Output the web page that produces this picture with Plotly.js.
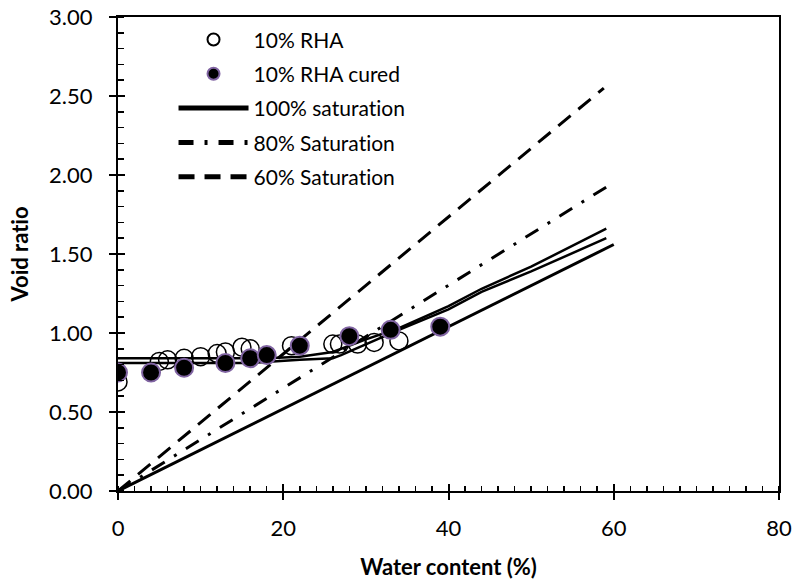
<!DOCTYPE html>
<html>
<head>
<meta charset="utf-8">
<script src="https://cdn.plot.ly/plotly-3.0.1.min.js"></script>
<style>html,body{margin:0;padding:0;background:#fff;}#chart{width:796px;height:588px;}
svg text{font-variant-ligatures:none;font-feature-settings:"liga" 0,"clig" 0;}</style>
</head>
<body>
<div id="chart"></div>
<script>
// 10% RHA (open circles)
var rhaX = [0, 5, 6, 8, 10, 12, 13, 15, 16, 21, 26, 26.8, 29, 31, 34];
var rhaY = [0.69, 0.82, 0.83, 0.84, 0.85, 0.87, 0.88, 0.91, 0.90, 0.92, 0.93, 0.93, 0.93, 0.94, 0.95];
// 10% RHA cured (filled circles)
var curedX = [0, 4, 8, 13, 16, 18, 22, 28, 33, 39];
var curedY = [0.75, 0.75, 0.78, 0.81, 0.84, 0.86, 0.92, 0.98, 1.02, 1.04];
// saturation lines (end points)
var sat100X = [0, 60];
var sat100Y = [0, 1.56];
var sat80X = [0, 59.6];
var sat80Y = [0, 1.94];
var sat60X = [0, 58.8];
var sat60Y = [0, 2.55];
// fitted curves (unlabelled solid lines)
var fitUX = [0, 18, 22, 26, 30, 34, 40, 44, 50, 59.1];
var fitUY = [0.84, 0.84, 0.85, 0.88, 0.96, 1.03, 1.17, 1.28, 1.42, 1.66];
var fitLX = [0, 16, 22, 26, 27, 30, 34, 40, 44, 50, 59.1];
var fitLY = [0.81, 0.81, 0.83, 0.84, 0.86, 0.93, 1.02, 1.15, 1.26, 1.39, 1.60];

var FONT = 'Lato, "Open Sans", sans-serif';

var traces = [
  {x: rhaX, y: rhaY, mode: 'markers', name: '10% RHA', legendgroup: 'a', legendrank: 1,
   marker: {symbol: 'circle-open', size: 18, color: '#000', line: {width: 1.5, color: '#000'}}},
  {x: sat100X, y: sat100Y, mode: 'lines', name: '100% saturation', legendgroup: 'c', legendrank: 3,
   line: {color: '#000', width: 3}},
  {x: sat80X, y: sat80Y, mode: 'lines', name: '80% Saturation', legendgroup: 'd', legendrank: 4,
   line: {color: '#000', width: 3, dash: '15px,11px,3px,11px'}},
  {x: sat60X, y: sat60Y, mode: 'lines', name: '60% Saturation', legendgroup: 'e', legendrank: 5,
   line: {color: '#000', width: 3, dash: '16px,10px'}},
  {x: fitUX, y: fitUY, mode: 'lines', showlegend: false, line: {color: '#000', width: 2.5}},
  {x: fitLX, y: fitLY, mode: 'lines', showlegend: false, line: {color: '#000', width: 2.5}},
  {x: curedX, y: curedY, mode: 'markers', name: '10% RHA cured', legendgroup: 'b', legendrank: 2,
   marker: {symbol: 'circle', size: 18, color: '#000', line: {width: 2, color: '#8064A2'}}},
  {x: [], y: [], xaxis: 'x2', yaxis: 'y2', showlegend: false, hoverinfo: 'skip'}
];

var layout = {
  width: 796, height: 588,
  margin: {l: 118, r: 17, t: 17, b: 97},
  paper_bgcolor: '#fff', plot_bgcolor: '#fff',
  font: {family: FONT, color: '#000', size: 21},
  showlegend: true,
  legend: {x: 0.084, xanchor: 'left', y: 0.995, yanchor: 'top', bgcolor: 'rgba(0,0,0,0)',
           itemwidth: 70, itemsizing: 'constant', traceorder: 'grouped', tracegroupgap: 4,
           font: {family: FONT, size: 21, color: '#000'}},
  xaxis: {range: [0, 80], dtick: 20, tick0: 0, ticks: 'outside', ticklen: 7, tickwidth: 2, tickcolor: '#000',
          showline: true, linewidth: 2, linecolor: '#000', mirror: true, showgrid: false, zeroline: false,
          minor: {ticks: 'inside', ticklen: 5, dtick: 2, tickwidth: 1.5, tickcolor: '#000', showgrid: false},
          tickfont: {family: FONT, size: 22, color: '#000'}, ticklabelstandoff: 10,
          title: {text: 'Water content (%)', font: {family: FONT, size: 22, color: '#000', weight: 'bold'}, standoff: 19}},
  yaxis: {range: [0, 3], dtick: 0.5, tick0: 0, tickformat: '.2f', ticks: 'outside', ticklen: 7, tickwidth: 2, tickcolor: '#000',
          showline: true, linewidth: 2, linecolor: '#000', mirror: true, showgrid: false, zeroline: false,
          minor: {ticks: 'inside', ticklen: 6, dtick: 0.1, tickwidth: 1.5, tickcolor: '#000', showgrid: false},
          tickfont: {family: FONT, size: 22, color: '#000'}, ticklabelstandoff: 12,
          title: {text: 'Void ratio', font: {family: FONT, size: 22, color: '#000', weight: 'bold'}, standoff: 14}},
  xaxis2: {overlaying: 'x', anchor: 'y', side: 'bottom', range: [0, 80], dtick: 20, tick0: 0, ticks: 'inside', ticklen: 7,
           tickwidth: 2, tickcolor: '#000', showticklabels: false, showline: false, showgrid: false, zeroline: false},
  yaxis2: {overlaying: 'y', anchor: 'x', side: 'left', range: [0, 3], dtick: 0.5, tick0: 0, ticks: 'inside', ticklen: 7,
           tickwidth: 2, tickcolor: '#000', showticklabels: false, showline: false, showgrid: false, zeroline: false}
};

Plotly.newPlot('chart', traces, layout, {displayModeBar: false, staticPlot: true});
</script>
</body>
</html>
